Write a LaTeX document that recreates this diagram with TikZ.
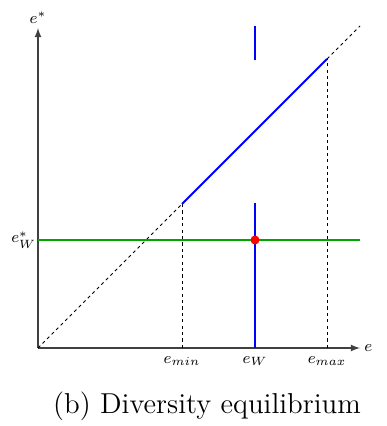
\documentclass[tikz,border=0pt]{standalone}
\usepackage{tikz}
\usetikzlibrary{arrows, positioning, calc}

\begin{document}
\begin{tikzpicture}[x=0.5pt, y=0.5pt,%
  axis/.style={semithick, -latex, draw=black!75},%
  guide/.style={thin, draw=black, dash pattern=on 1.6pt off 1.6pt},%
  curve/.style={line width=1pt, draw=blue},%
  level/.style={line width=1pt, draw=green!65!black},%
  tick/.style={font=\footnotesize, inner sep=2pt},%
  eqpoint/.style={circle, fill=red, inner sep=0pt, minimum size=4.5pt}%
]
  \useasboundingbox (-38,-78) rectangle (348,348);
  % ejes
  \coordinate (O) at (0,0);
  \coordinate (xend) at (322,0);
  \coordinate (yend) at (0,320);
  \draw[axis] (O) -- (xend);
  \draw[axis] (O) -- (yend);
  \node[tick, right] (xlab) at (xend) {$e$};
  \node[tick, above] (ylab) at (yend) {$e^*$};
  % puntos sobre el eje
  \coordinate (xmin) at (144,0);
  \coordinate (xw) at (217,0);
  \coordinate (xmax) at (289,0);
  \node[tick, below=2pt] (lmin) at (xmin) {$e_{min}$};
  \node[tick, below=2pt] (lw) at (xw) {$e_W$};
  \node[tick, below=2pt] (lmax) at (xmax) {$e_{max}$};
  % diagonal
  \coordinate (pmin) at (144,144);
  \coordinate (pmax) at (289,289);
  \coordinate (dend) at (322,322);
  \draw[guide] (O) -- (pmin);
  \draw[guide] (pmax) -- (dend);
  \draw[guide] (xmin) -- (pmin);
  \draw[guide] (xmax) -- (pmax);
  \draw[curve] (pmin) -- (pmax);
  % nivel e_W^*
  \coordinate (ylev) at (0,108);
  \coordinate (lend) at (322,108);
  \node[tick, left, inner sep=0.8pt] (llev) at (ylev) {$e_W^*$};
  \draw[level] (ylev) -- (lend);
  % respuesta vertical en e_W
  \coordinate (wlow) at (217,145);
  \coordinate (wtop) at (217,288);
  \coordinate (wend) at (217,322);
  \draw[curve] (xw) -- (wlow);
  \draw[curve] (wtop) -- (wend);
  \node[eqpoint] (eq) at (217,108) {};
  % titulo
  \node[anchor=base, font=\Large, inner sep=0pt] (caption) at (169,-65) {(b) Diversity equilibrium};
\end{tikzpicture}
\end{document}
